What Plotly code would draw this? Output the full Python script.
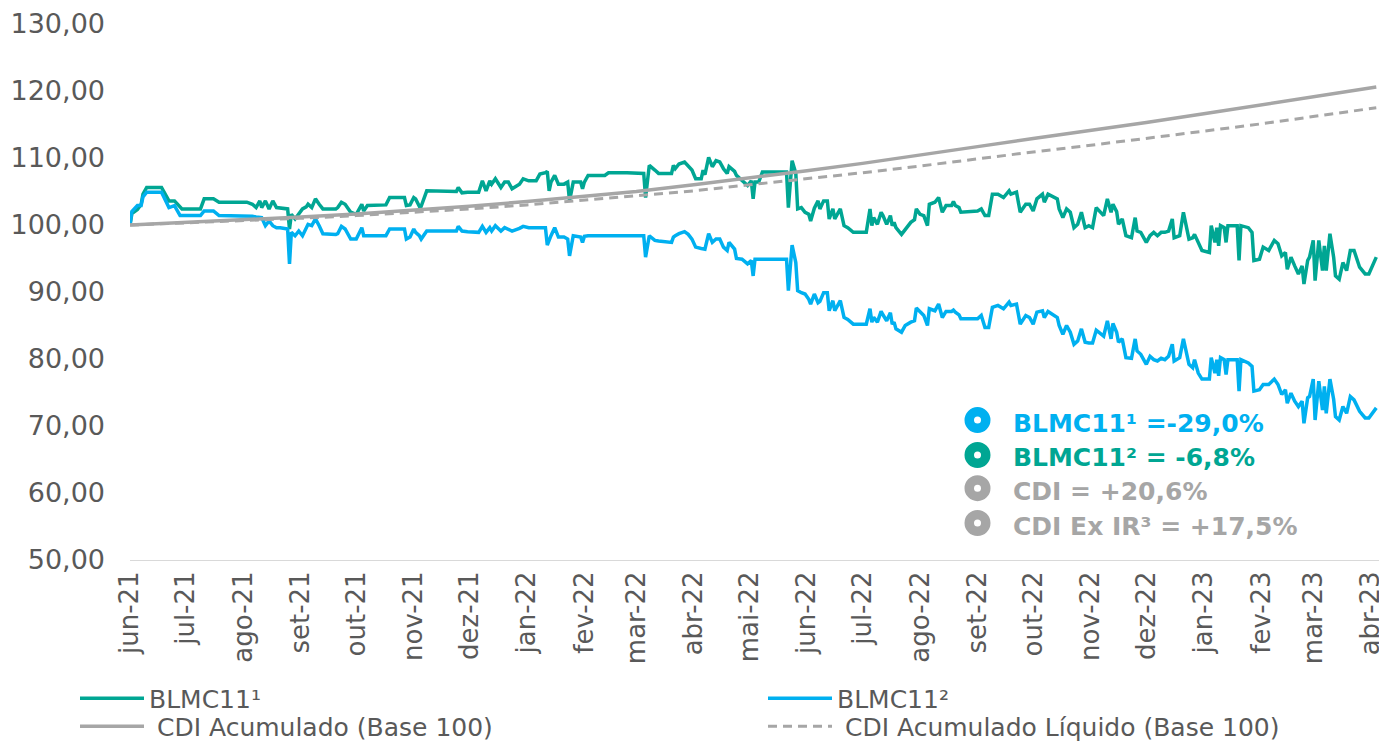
import plotly.graph_objects as go

TEAL = "#00A693"
BLUE = "#00B0F0"
GRAY = "#A6A6A6"
TXT = "#595959"
FONT = "Verdana, DejaVu Sans, sans-serif"

dates = [
    "2021-06-01", "2021-06-02", "2021-06-05", "2021-06-07", "2021-06-08", "2021-06-10", "2021-06-18",
    "2021-06-21", "2021-06-22", "2021-06-25", "2021-06-28", "2021-06-29",
    "2021-07-09", "2021-07-11", "2021-07-16", "2021-07-19",
    "2021-08-03", "2021-08-06", "2021-08-08", "2021-08-10", "2021-08-11", "2021-08-13", "2021-08-15",
    "2021-08-17", "2021-08-19", "2021-08-21", "2021-08-25", "2021-08-26", "2021-08-27", "2021-08-29",
    "2021-08-31",
    "2021-09-02", "2021-09-04", "2021-09-05", "2021-09-07", "2021-09-09", "2021-09-11", "2021-09-13",
    "2021-09-20", "2021-09-21", "2021-09-23", "2021-09-25", "2021-09-28",
    "2021-10-01", "2021-10-04", "2021-10-05", "2021-10-07", "2021-10-13", "2021-10-17", "2021-10-19",
    "2021-10-27", "2021-10-28", "2021-10-30",
    "2021-11-01", "2021-11-02", "2021-11-04", "2021-11-05", "2021-11-08", "2021-11-24", "2021-11-25",
    "2021-11-27", "2021-11-30",
    "2021-12-06", "2021-12-08", "2021-12-10", "2021-12-12", "2021-12-13", "2021-12-15", "2021-12-18",
    "2021-12-20", "2021-12-22", "2021-12-24", "2021-12-28", "2021-12-30",
    "2022-01-02", "2022-01-06", "2022-01-08", "2022-01-11", "2022-01-12", "2022-01-13", "2022-01-14",
    "2022-01-16", "2022-01-18", "2022-01-21", "2022-01-23", "2022-01-24", "2022-01-26", "2022-01-30",
    "2022-01-31",
    "2022-02-01", "2022-02-03", "2022-02-12", "2022-02-14", "2022-02-24",
    "2022-03-05", "2022-03-06", "2022-03-08", "2022-03-11", "2022-03-13", "2022-03-20", "2022-03-21",
    "2022-03-22", "2022-03-24", "2022-03-27", "2022-03-29", "2022-03-31",
    "2022-04-02", "2022-04-05", "2022-04-06", "2022-04-07", "2022-04-09", "2022-04-11", "2022-04-13",
    "2022-04-15", "2022-04-17", "2022-04-19", "2022-04-20", "2022-04-23", "2022-04-24", "2022-04-27",
    "2022-04-30",
    "2022-05-02", "2022-05-03", "2022-05-04", "2022-05-06", "2022-05-08", "2022-05-21", "2022-05-22",
    "2022-05-24", "2022-05-26", "2022-05-27", "2022-05-29", "2022-05-31",
    "2022-06-02", "2022-06-03", "2022-06-05", "2022-06-07", "2022-06-08", "2022-06-10", "2022-06-12",
    "2022-06-13", "2022-06-15", "2022-06-16", "2022-06-19", "2022-06-21", "2022-06-23", "2022-06-26",
    "2022-07-03", "2022-07-05", "2022-07-06", "2022-07-07", "2022-07-09", "2022-07-11", "2022-07-12",
    "2022-07-14", "2022-07-16", "2022-07-17", "2022-07-18", "2022-07-19", "2022-07-22", "2022-07-24",
    "2022-07-27", "2022-07-29", "2022-07-30",
    "2022-08-01", "2022-08-03", "2022-08-05", "2022-08-06", "2022-08-09", "2022-08-11", "2022-08-13",
    "2022-08-15", "2022-08-18", "2022-08-19", "2022-08-20", "2022-08-22", "2022-08-23",
    "2022-09-01", "2022-09-03", "2022-09-05", "2022-09-07", "2022-09-09", "2022-09-12", "2022-09-15",
    "2022-09-18", "2022-09-19", "2022-09-22", "2022-09-24", "2022-09-27", "2022-09-29",
    "2022-10-01", "2022-10-03", "2022-10-06", "2022-10-07", "2022-10-09", "2022-10-12", "2022-10-14",
    "2022-10-15", "2022-10-17", "2022-10-19", "2022-10-21", "2022-10-23", "2022-10-25", "2022-10-27",
    "2022-10-29", "2022-10-31",
    "2022-11-02", "2022-11-04", "2022-11-06", "2022-11-08", "2022-11-10", "2022-11-12", "2022-11-13",
    "2022-11-15", "2022-11-16", "2022-11-18", "2022-11-20", "2022-11-23", "2022-11-25", "2022-11-26",
    "2022-11-28",
    "2022-12-01", "2022-12-03", "2022-12-05", "2022-12-07", "2022-12-09", "2022-12-11", "2022-12-13",
    "2022-12-15", "2022-12-16", "2022-12-19", "2022-12-21", "2022-12-24", "2022-12-26", "2022-12-27",
    "2022-12-29", "2022-12-31",
    "2023-01-04", "2023-01-05", "2023-01-07", "2023-01-08", "2023-01-09", "2023-01-10", "2023-01-12",
    "2023-01-13", "2023-01-14", "2023-01-19", "2023-01-20", "2023-01-21", "2023-01-25", "2023-01-27",
    "2023-01-28", "2023-01-31",
    "2023-02-02", "2023-02-05", "2023-02-08", "2023-02-10", "2023-02-12", "2023-02-14", "2023-02-15",
    "2023-02-17", "2023-02-19", "2023-02-21", "2023-02-23", "2023-02-24", "2023-02-26", "2023-02-27",
    "2023-03-01", "2023-03-02", "2023-03-04", "2023-03-06", "2023-03-07", "2023-03-08", "2023-03-10",
    "2023-03-12", "2023-03-13", "2023-03-15", "2023-03-17", "2023-03-19", "2023-03-21", "2023-03-23",
    "2023-03-26", "2023-03-29", "2023-03-31", "2023-04-04",
]

blmc11_1 = [
    100.0, 101.7, 102.3, 103.1, 104.6, 105.6, 105.6,
    104.0, 103.6, 103.6, 102.6, 102.4,
    102.4, 103.9, 103.9, 103.4,
    103.4, 103.1, 102.6, 103.6, 102.6, 103.6, 102.4,
    103.6, 102.6, 102.5, 102.4, 99.4, 101.6, 100.9,
    101.6,
    102.4, 102.7, 103.1, 102.6, 103.9, 103.1, 102.4,
    102.4, 102.6, 103.4, 103.1, 101.9,
    101.6, 103.1, 102.1, 102.9, 102.9, 103.0, 104.1,
    104.1, 102.9, 103.0,
    104.1, 103.9, 102.8, 102.8, 105.1, 105.0, 105.6,
    104.8, 104.9,
    104.9, 106.6, 105.1, 106.6, 106.1, 106.9, 105.6,
    106.4, 106.4, 105.4, 106.1, 106.9,
    106.6, 106.6, 107.6, 107.8, 108.0, 105.1, 106.4,
    107.4, 106.1, 106.1, 106.4, 103.6, 106.4, 106.4,
    105.4,
    106.4, 107.4, 107.4, 107.8, 107.8,
    107.7, 104.1, 108.9, 108.2, 107.7, 107.7, 108.9,
    108.4, 109.1, 109.4, 108.7, 108.2,
    106.9, 106.9, 108.2, 107.5, 110.1, 108.7, 109.6,
    109.4, 108.4, 107.7, 108.7, 108.0, 107.4, 106.6,
    105.9,
    106.6, 103.9, 106.4, 106.4, 107.9, 107.9, 102.6,
    109.6, 107.7, 102.4, 102.6, 101.9,
    101.6, 100.6, 102.5, 103.6, 102.4, 103.6, 103.6,
    100.9, 102.4, 100.9, 102.4, 99.9, 99.6, 98.9,
    98.9, 102.4, 99.9, 101.1, 100.1, 101.9, 101.4,
    100.1, 101.4, 99.9, 100.4, 99.6, 98.6, 99.4,
    100.4, 100.8, 102.4,
    101.6, 101.4, 99.9, 103.1, 103.4, 104.1, 101.9,
    102.9, 102.9, 103.5, 102.9, 102.6, 101.9,
    102.1, 102.4, 101.4, 101.4, 104.6, 104.6, 104.1,
    105.1, 104.6, 104.9, 101.9, 103.1, 103.1,
    102.1, 103.9, 104.6, 103.4, 104.6, 104.1, 103.9,
    102.4, 101.1, 102.4, 101.9, 99.6, 100.1, 101.9,
    99.6, 99.9,
    99.6, 102.6, 101.9, 101.4, 103.9, 101.9, 103.1,
    102.0, 100.1, 100.9, 98.4, 98.1, 101.1, 99.1,
    98.9,
    97.4, 98.4, 98.9, 98.4, 98.9, 98.9, 99.1,
    100.9, 98.1, 98.4, 101.9, 97.9, 98.1, 98.6,
    97.4, 96.2,
    95.9, 99.9, 97.4, 99.6, 96.9, 99.9, 99.6,
    97.4, 99.9, 99.9, 94.7, 99.9, 99.6, 98.9,
    94.7, 94.9,
    96.7, 96.2, 97.7, 97.2, 95.4, 95.9, 93.4,
    95.2, 93.9, 92.7, 93.9, 91.2, 94.7, 95.2,
    97.7, 91.7, 97.7, 93.2, 96.9, 93.2, 98.7,
    95.2, 92.4, 91.9, 94.4, 93.2, 96.2, 96.2,
    93.7, 92.7, 92.7, 95.2,
]

blmc11_2 = [
    100.0, 102.0, 102.9, 102.9, 104.2, 104.9, 104.9,
    103.1, 102.6, 102.9, 101.4, 101.4,
    101.4, 102.1, 102.1, 101.4,
    101.4, 101.3, 101.2, 101.2, 101.1, 99.9, 100.6,
    99.9, 99.6, 99.6, 99.4, 94.2, 98.9, 98.4,
    99.1,
    98.4, 99.4, 100.1, 99.9, 100.9, 99.9, 98.7,
    98.6, 98.7, 99.8, 99.4, 97.9,
    97.9, 99.6, 98.4, 98.4, 98.4, 98.4, 99.4,
    99.4, 97.9, 98.2,
    99.4, 98.9, 98.4, 97.9, 99.1, 99.1, 99.8,
    99.1, 99.0,
    98.9, 99.8, 98.9, 99.6, 99.1, 99.9, 99.1,
    99.6, 99.4, 99.1, 99.5, 99.8,
    99.6, 99.6, 99.6, 99.6, 97.0, 97.8, 98.4,
    99.6, 98.2, 98.2, 97.9, 95.4, 98.4, 98.2,
    97.4,
    98.3, 98.4, 98.4, 98.4, 98.4,
    98.4, 95.2, 98.4, 97.7, 97.6, 97.4, 98.2,
    98.4, 98.7, 99.0, 98.6, 97.9,
    96.7, 96.5, 96.4, 96.4, 98.7, 97.4, 97.9,
    97.9, 96.7, 96.2, 97.4, 96.4, 95.0, 94.9,
    94.2,
    94.7, 92.4, 94.9, 94.9, 94.9, 94.9, 90.2,
    97.0, 94.4, 90.2, 89.9, 89.7,
    88.9, 88.2, 89.7, 88.4, 88.6, 89.9, 89.9,
    87.2, 88.7, 87.2, 88.7, 86.2, 85.9, 85.2,
    85.2, 87.5, 85.5, 86.2, 85.5, 87.1, 86.6,
    85.7, 86.9, 85.2, 85.5, 84.5, 84.0, 85.0,
    85.5, 85.7, 87.6,
    87.0, 86.5, 85.0, 87.5, 87.2, 88.2, 86.2,
    87.1, 87.1, 87.3, 87.0, 86.6, 86.0,
    86.0, 86.5, 84.7, 84.7, 87.7, 88.0, 87.5,
    88.5, 88.0, 88.2, 85.2, 86.5, 86.2,
    85.2, 87.0, 87.2, 86.2, 87.1, 86.5, 86.2,
    85.0, 83.7, 85.0, 84.0, 82.2, 82.7, 84.5,
    82.5, 82.4,
    82.4, 84.3, 83.8, 83.4, 85.7, 83.0, 85.3,
    84.0, 82.5, 83.0, 80.2, 80.1, 83.0, 81.2,
    80.7,
    79.2, 80.4, 79.9, 79.7, 80.1, 79.9, 80.4,
    82.2, 79.7, 80.2, 83.0, 79.2, 78.7, 79.9,
    77.9, 77.0,
    77.0, 80.2, 77.9, 79.9, 77.5, 80.2, 79.9,
    77.7, 79.9, 79.9, 75.2, 79.9, 79.4, 78.9,
    75.2, 75.4,
    76.2, 76.2, 77.0, 76.2, 74.7, 75.4, 73.4,
    74.9, 73.7, 72.9, 73.7, 70.4, 74.2, 74.4,
    77.0, 70.9, 76.7, 72.4, 75.9, 71.9, 77.0,
    74.0, 71.4, 70.9, 72.9, 71.9, 74.4, 73.9,
    72.2, 71.2, 71.2, 72.7,
]

cdi_dates = [
    "2021-06-01", "2021-07-01", "2021-08-01", "2021-09-01", "2021-10-01", "2021-11-01",
    "2021-12-01", "2022-01-01", "2022-02-01", "2022-03-01", "2022-04-01", "2022-05-01",
    "2022-06-01", "2022-07-01", "2022-08-01", "2022-09-01", "2022-10-01", "2022-11-01",
    "2022-12-01", "2023-01-01", "2023-02-01", "2023-03-01", "2023-04-04",
]
cdi_acumulado = [
    100.0, 100.35, 100.75, 101.2, 101.65, 102.2,
    102.8, 103.5, 104.3, 105.0, 106.0, 107.0,
    108.1, 109.2, 110.4, 111.7, 112.9, 114.1,
    115.3, 116.6, 117.9, 119.1, 120.6,
]
cdi_liquido = [
    100.0, 100.3, 100.6, 101.0, 101.4, 101.9,
    102.4, 103.0, 103.7, 104.3, 105.1, 106.0,
    106.9, 107.8, 108.8, 109.9, 110.9, 111.9,
    112.9, 114.0, 115.1, 116.2, 117.5,
]

tick_dates = [
    "2021-06-01", "2021-07-01", "2021-08-01", "2021-09-01", "2021-10-01", "2021-11-01",
    "2021-12-01", "2022-01-01", "2022-02-01", "2022-03-01", "2022-04-01", "2022-05-01",
    "2022-06-01", "2022-07-01", "2022-08-01", "2022-09-01", "2022-10-01", "2022-11-01",
    "2022-12-01", "2023-01-01", "2023-02-01", "2023-03-01", "2023-04-01",
]
tick_labels = [
    "jun-21", "jul-21", "ago-21", "set-21", "out-21", "nov-21",
    "dez-21", "jan-22", "fev-22", "mar-22", "abr-22", "mai-22",
    "jun-22", "jul-22", "ago-22", "set-22", "out-22", "nov-22",
    "dez-22", "jan-23", "fev-23", "mar-23", "abr-23",
]

summary_labels = ["BLMC11¹ =-29,0%", "BLMC11² = -6,8%", "CDI = +20,6%", "CDI Ex IR³ = +17,5%"]
summary_colors = [BLUE, TEAL, GRAY, GRAY]
summary_rows_y = [0.261, 0.196, 0.134, 0.069]

fig = go.Figure()
fig.add_trace(go.Scatter(x=dates, y=blmc11_1, name="BLMC11¹", mode="lines", legend="legend",
                         line=dict(color=TEAL, width=3.5)))
fig.add_trace(go.Scatter(x=dates, y=blmc11_2, name="BLMC11²", mode="lines", legend="legend",
                         line=dict(color=BLUE, width=3.5)))
fig.add_trace(go.Scatter(x=cdi_dates, y=cdi_acumulado, name=" CDI Acumulado (Base 100)", mode="lines",
                         legend="legend2", line=dict(color=GRAY, width=3.5)))
fig.add_trace(go.Scatter(x=cdi_dates, y=cdi_liquido, name=" CDI Acumulado Líquido (Base 100)", mode="lines",
                         legend="legend2", line=dict(color=GRAY, width=3, dash="9px,6px")))

shapes = []
annotations = []
for lab, col, yy in zip(summary_labels, summary_colors, summary_rows_y):
    shapes.append(dict(type="circle", xref="paper", yref="paper", xsizemode="pixel", ysizemode="pixel",
                       xanchor=0.678, yanchor=yy, x0=-13, x1=13, y0=-13, y1=13,
                       fillcolor=col, line=dict(width=0)))
    shapes.append(dict(type="circle", xref="paper", yref="paper", xsizemode="pixel", ysizemode="pixel",
                       xanchor=0.678, yanchor=yy, x0=-3.5, x1=3.5, y0=-3.5, y1=3.5,
                       fillcolor="white", line=dict(width=0)))
    annotations.append(dict(xref="paper", yref="paper", x=0.705, y=yy, yshift=-3, xanchor="left",
                            yanchor="middle", showarrow=False, text="<b>" + lab + "</b>",
                            font=dict(family=FONT, size=25, color=col)))

legend_style = dict(orientation="h", x=-0.044, xanchor="left", yanchor="top",
                    entrywidth=609, itemwidth=64, font=dict(family=FONT, size=25, color=TXT),
                    bgcolor="rgba(0,0,0,0)", traceorder="normal")

# The page body adds an 8px offset, so the figure is sized to fit the 1387x745 window.
fig.update_layout(
    width=1379, height=737,
    margin=dict(l=122, r=7, t=16, b=185, autoexpand=False),
    paper_bgcolor="white", plot_bgcolor="white",
    separators=",.",
    font=dict(family=FONT, color=TXT),
    shapes=shapes, annotations=annotations,
    showlegend=True,
    legend=dict(y=-0.2155, **legend_style),
    legend2=dict(y=-0.2675, **legend_style),
    xaxis=dict(type="date", range=["2021-06-01", "2023-04-06"], tickvals=tick_dates, ticktext=tick_labels,
               tickangle=-90, tickfont=dict(family=FONT, size=26, color=TXT), showgrid=False,
               showline=True, linecolor="#D9D9D9", linewidth=1, ticks="", zeroline=False,
               ticklabelstandoff=0, ticklabeloverflow="allow"),
    yaxis=dict(range=[50, 130], dtick=10, tickformat=".2f", tickfont=dict(family=FONT, size=27, color=TXT),
               showgrid=False, zeroline=False, showline=False, ticks="", ticklabelstandoff=24),
)

fig.write_html("out.html")
